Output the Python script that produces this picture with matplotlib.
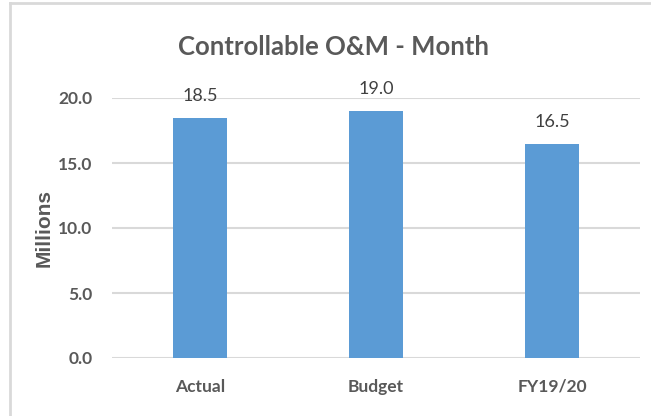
import matplotlib
matplotlib.use("Agg")
import matplotlib.pyplot as plt
from matplotlib.lines import Line2D

categories = ["Actual", "Budget", "FY19/20"]
values = [18.5, 19.0, 16.5]
value_labels = ["18.5", "19.0", "16.5"]
yticks = [0, 5, 10, 15, 20]
ytick_labels = ["0.0", "5.0", "10.0", "15.0", "20.0"]

txt = "#595959"
plt.rcParams["font.family"] = ["Lato", "DejaVu Sans"]

fig = plt.figure(figsize=(6.51, 4.16), dpi=100)
ax = fig.add_axes([112 / 651, 58 / 416, 528 / 651, 260 / 416])

x = list(range(len(categories)))
ax.bar(x, values, width=0.31, color="#5B9BD5", zorder=3)
for xi, v, lab in zip(x, values, value_labels):
    ax.annotate(lab, (xi, v), xytext=(0, 10), textcoords="offset points",
                ha="center", va="bottom", fontsize=13, color="#404040")

ax.set_xlim(-0.5, len(categories) - 0.5)
ax.set_ylim(0, 20)
ax.set_yticks(yticks)
ax.set_yticklabels(ytick_labels, fontsize=12.5, fontweight="bold", color=txt)
ax.set_xticks(x)
ax.set_xticklabels(categories, fontsize=12.5, fontweight="bold", color=txt)
ax.tick_params(axis="y", length=0, pad=14)
ax.tick_params(axis="x", length=0, pad=15)
ax.grid(axis="y", color="#D9D9D9", linewidth=1.5, zorder=0)
for s in ax.spines.values():
    s.set_visible(False)

ax.set_ylabel("Millions", fontsize=15, fontweight="bold", color=txt,
              family="Liberation Sans", labelpad=3)
fig.text(334 / 651, 1 - 47 / 416, "Controllable O&M - Month",
         ha="center", va="center", fontsize=18.5, fontweight="bold",
         color=txt)

# chart frame (top and left edges visible)
frame = "#D9D9D9"
fig.lines.append(Line2D([10 / 651, 1], [1 - 3 / 416, 1 - 3 / 416],
                        transform=fig.transFigure, color=frame, linewidth=2))
fig.lines.append(Line2D([10 / 651, 10 / 651], [0, 1 - 3 / 416],
                        transform=fig.transFigure, color=frame, linewidth=2))

fig.savefig("out.png", dpi=100)
